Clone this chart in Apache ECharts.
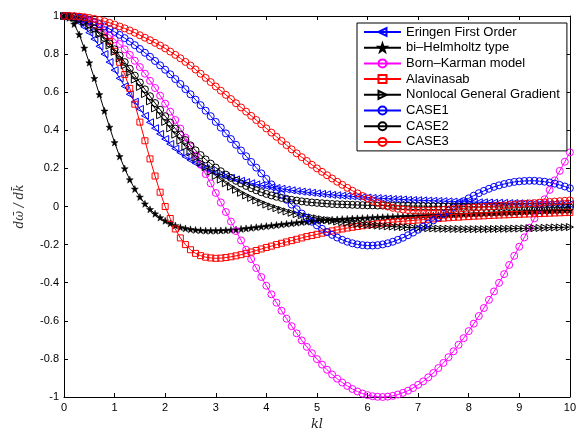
<!DOCTYPE html>
<html>
<head>
<meta charset="utf-8">
<script src="https://cdn.jsdelivr.net/npm/echarts@6/dist/echarts.min.js"></script>
<style>
  html, body { margin: 0; padding: 0; background: #fff; }
  #chart { width: 579px; height: 436px; }
</style>
</head>
<body>
<div id="chart"></div>
<script>
// Group velocity dω̄/dk̄ versus kl for several nonlocal dispersion models.
const kl = [0,0.1,0.2,0.3,0.4,0.5,0.6,0.7,0.8,0.9,1,1.1,1.2,1.3,1.4,1.5,1.6,1.7,1.8,1.9,2,2.1,2.2,2.3,2.4,2.5,2.6,2.7,2.8,2.9,3,3.1,3.2,3.3,3.4,3.5,3.6,3.7,3.8,3.9,4,4.1,4.2,4.3,4.4,4.5,4.6,4.7,4.8,4.9,5,5.1,5.2,5.3,5.4,5.5,5.6,5.7,5.8,5.9,6,6.1,6.2,6.3,6.4,6.5,6.6,6.7,6.8,6.9,7,7.1,7.2,7.3,7.4,7.5,7.6,7.7,7.8,7.9,8,8.1,8.2,8.3,8.4,8.5,8.6,8.7,8.8,8.9,9,9.1,9.2,9.3,9.4,9.5,9.6,9.7,9.8,9.9,10];

const eringen = [1.000,0.996,0.985,0.967,0.943,0.913,0.879,0.841,0.800,0.758,0.716,0.673,0.631,0.589,0.550,0.512,0.476,0.442,0.411,0.381,0.354,0.328,0.304,0.283,0.262,0.244,0.228,0.213,0.200,0.188,0.177,0.167,0.158,0.150,0.142,0.135,0.128,0.122,0.116,0.111,0.106,0.101,0.097,0.093,0.089,0.085,0.081,0.078,0.075,0.072,0.069,0.066,0.064,0.061,0.059,0.057,0.055,0.053,0.051,0.049,0.047,0.045,0.044,0.042,0.041,0.039,0.038,0.037,0.035,0.034,0.033,0.032,0.031,0.030,0.029,0.028,0.027,0.026,0.025,0.025,0.024,0.023,0.022,0.022,0.021,0.020,0.020,0.019,0.018,0.018,0.017,0.017,0.016,0.016,0.015,0.015,0.014,0.014,0.013,0.013,0.012];

const biHelmholtz = [1.000,0.990,0.958,0.903,0.832,0.755,0.673,0.588,0.502,0.417,0.336,0.263,0.199,0.141,0.092,0.050,0.014,-0.015,-0.038,-0.058,-0.075,-0.089,-0.100,-0.109,-0.115,-0.120,-0.123,-0.125,-0.127,-0.127,-0.127,-0.126,-0.125,-0.123,-0.121,-0.118,-0.115,-0.112,-0.109,-0.106,-0.103,-0.100,-0.097,-0.094,-0.091,-0.088,-0.085,-0.082,-0.080,-0.077,-0.075,-0.073,-0.071,-0.069,-0.068,-0.066,-0.065,-0.063,-0.062,-0.061,-0.060,-0.058,-0.057,-0.056,-0.055,-0.054,-0.053,-0.052,-0.051,-0.050,-0.049,-0.048,-0.047,-0.046,-0.045,-0.044,-0.043,-0.042,-0.041,-0.040,-0.039,-0.038,-0.037,-0.036,-0.035,-0.034,-0.033,-0.032,-0.031,-0.030,-0.029,-0.028,-0.027,-0.026,-0.025,-0.024,-0.023,-0.022,-0.021,-0.020,-0.019];

const bornKarman = [1.000,0.999,0.995,0.989,0.980,0.969,0.955,0.939,0.921,0.900,0.878,0.853,0.825,0.796,0.765,0.732,0.697,0.660,0.622,0.582,0.540,0.498,0.454,0.409,0.362,0.315,0.267,0.219,0.170,0.121,0.071,0.021,-0.029,-0.079,-0.129,-0.178,-0.227,-0.276,-0.323,-0.370,-0.416,-0.461,-0.505,-0.547,-0.589,-0.628,-0.666,-0.703,-0.737,-0.770,-0.801,-0.830,-0.857,-0.882,-0.904,-0.924,-0.942,-0.958,-0.971,-0.982,-0.990,-0.996,-0.999,-1.000,-0.998,-0.994,-0.987,-0.978,-0.967,-0.953,-0.936,-0.918,-0.897,-0.874,-0.848,-0.821,-0.791,-0.760,-0.726,-0.691,-0.654,-0.615,-0.575,-0.533,-0.490,-0.446,-0.401,-0.355,-0.307,-0.259,-0.211,-0.162,-0.112,-0.062,-0.012,0.038,0.087,0.137,0.187,0.235,0.284];

const alavinasab = [1.000,1.000,0.999,0.997,0.992,0.983,0.968,0.945,0.912,0.867,0.815,0.757,0.693,0.620,0.537,0.443,0.345,0.250,0.160,0.075,0.000,-0.063,-0.118,-0.165,-0.200,-0.227,-0.246,-0.258,-0.266,-0.270,-0.272,-0.271,-0.268,-0.264,-0.259,-0.253,-0.246,-0.239,-0.231,-0.223,-0.215,-0.208,-0.200,-0.193,-0.186,-0.179,-0.172,-0.165,-0.158,-0.152,-0.146,-0.140,-0.134,-0.128,-0.123,-0.118,-0.113,-0.109,-0.105,-0.101,-0.097,-0.094,-0.091,-0.088,-0.085,-0.082,-0.080,-0.077,-0.075,-0.073,-0.071,-0.069,-0.067,-0.065,-0.063,-0.061,-0.059,-0.057,-0.056,-0.054,-0.053,-0.051,-0.050,-0.049,-0.047,-0.046,-0.045,-0.044,-0.043,-0.042,-0.041,-0.040,-0.039,-0.038,-0.037,-0.036,-0.035,-0.034,-0.033,-0.032,-0.031];

const generalGradient = [1.000,0.998,0.992,0.982,0.968,0.950,0.929,0.904,0.876,0.845,0.812,0.777,0.741,0.704,0.666,0.628,0.590,0.552,0.515,0.479,0.444,0.410,0.377,0.345,0.314,0.285,0.257,0.231,0.206,0.183,0.161,0.141,0.122,0.104,0.088,0.072,0.058,0.045,0.032,0.021,0.010,0.000,-0.009,-0.018,-0.026,-0.033,-0.040,-0.046,-0.052,-0.057,-0.062,-0.067,-0.071,-0.075,-0.079,-0.082,-0.085,-0.088,-0.091,-0.093,-0.096,-0.098,-0.100,-0.102,-0.104,-0.105,-0.107,-0.108,-0.110,-0.111,-0.112,-0.113,-0.114,-0.115,-0.116,-0.117,-0.117,-0.118,-0.118,-0.119,-0.119,-0.119,-0.119,-0.119,-0.119,-0.118,-0.118,-0.117,-0.117,-0.116,-0.116,-0.115,-0.114,-0.114,-0.113,-0.112,-0.111,-0.110,-0.110,-0.109,-0.108];

const case1 = [1.000,0.999,0.996,0.991,0.985,0.977,0.968,0.957,0.945,0.932,0.917,0.901,0.884,0.866,0.847,0.827,0.807,0.786,0.764,0.741,0.718,0.694,0.669,0.643,0.616,0.589,0.561,0.532,0.503,0.474,0.444,0.414,0.384,0.354,0.324,0.294,0.264,0.234,0.204,0.174,0.145,0.116,0.088,0.061,0.035,0.010,-0.014,-0.037,-0.059,-0.080,-0.099,-0.117,-0.134,-0.149,-0.163,-0.175,-0.185,-0.193,-0.199,-0.203,-0.205,-0.205,-0.203,-0.199,-0.193,-0.185,-0.175,-0.164,-0.151,-0.137,-0.122,-0.106,-0.090,-0.073,-0.056,-0.039,-0.022,-0.006,0.012,0.028,0.043,0.057,0.070,0.082,0.093,0.103,0.111,0.118,0.124,0.129,0.132,0.134,0.135,0.135,0.133,0.130,0.126,0.120,0.113,0.105,0.096];

const case2 = [1.000,0.998,0.993,0.984,0.971,0.955,0.935,0.912,0.885,0.856,0.825,0.792,0.758,0.723,0.687,0.651,0.615,0.579,0.543,0.508,0.474,0.441,0.409,0.378,0.349,0.321,0.295,0.270,0.247,0.225,0.204,0.185,0.167,0.150,0.135,0.121,0.108,0.096,0.085,0.075,0.066,0.058,0.051,0.045,0.040,0.035,0.031,0.027,0.024,0.021,0.019,0.017,0.015,0.013,0.012,0.011,0.010,0.009,0.008,0.007,0.006,0.006,0.005,0.005,0.004,0.004,0.003,0.003,0.003,0.002,0.002,0.002,0.001,0.001,0.001,0.000,0.000,0.000,-0.001,-0.001,-0.001,-0.001,-0.002,-0.002,-0.002,-0.002,-0.002,-0.003,-0.003,-0.003,-0.003,-0.003,-0.003,-0.004,-0.004,-0.004,-0.004,-0.004,-0.004,-0.005,-0.005];

const case3 = [1.000,1.000,0.999,0.997,0.994,0.990,0.985,0.979,0.972,0.964,0.955,0.945,0.935,0.924,0.912,0.899,0.886,0.873,0.859,0.845,0.830,0.813,0.796,0.778,0.759,0.740,0.719,0.697,0.675,0.653,0.630,0.608,0.586,0.564,0.542,0.520,0.498,0.476,0.454,0.432,0.410,0.388,0.366,0.344,0.322,0.300,0.279,0.259,0.239,0.219,0.200,0.182,0.164,0.147,0.130,0.114,0.098,0.083,0.069,0.055,0.042,0.030,0.019,0.009,0.000,-0.007,-0.012,-0.016,-0.019,-0.021,-0.022,-0.022,-0.022,-0.021,-0.020,-0.018,-0.016,-0.014,-0.012,-0.010,-0.008,-0.006,-0.004,-0.002,0.000,0.002,0.004,0.006,0.008,0.010,0.012,0.014,0.016,0.018,0.020,0.022,0.024,0.026,0.028,0.030,0.032];

const xTicks = [0, 10, 1];      // min, max, step
const yTicks = [-1, 1, 0.2];

const STAR = 'path://M0,-10L2.35,-3.24L9.51,-3.09L3.8,1.24L5.88,8.09L0,4L-5.88,8.09L-3.8,1.24L-9.51,-3.09L-2.35,-3.24Z';

function pairs(ys) { return ys.map((y, i) => [kl[i], y]); }

function curve(name, ys, color, symbol, size, opts) {
  opts = opts || {};
  return {
    name: name,
    type: 'line',
    data: pairs(ys),
    symbol: symbol,
    symbolSize: size,
    symbolRotate: opts.rotate || 0,
    showAllSymbol: true,
    clip: false,
    animation: false,
    lineStyle: { color: color, width: 1 },
    itemStyle: opts.filled
      ? { color: color, borderColor: color, borderWidth: 0.5 }
      : { color: 'rgba(255,255,255,0)', borderColor: color, borderWidth: 1 },
    emphasis: { disabled: true }
  };
}

const axisFont = { fontFamily: 'Liberation Sans, Arial, sans-serif', fontSize: 11, color: '#000' };

const chart = echarts.init(document.getElementById('chart'), null, { renderer: 'canvas' });
chart.setOption({
  backgroundColor: '#fff',
  animation: false,
  grid: { left: 64, right: 4, top: 16, bottom: 39, containLabel: false },
  xAxis: [{
    type: 'value', min: xTicks[0], max: xTicks[1], interval: xTicks[2],
    name: 'kl', nameLocation: 'middle', nameGap: 17,
    nameTextStyle: { fontFamily: 'DejaVu Serif, serif', fontStyle: 'italic', fontSize: 13, color: '#222' },
    axisLine: { show: true, onZero: false, lineStyle: { color: '#000', width: 1 } },
    axisTick: { show: true, inside: true, length: 4, lineStyle: { color: '#000' } },
    axisLabel: Object.assign({ margin: 5 }, axisFont),
    splitLine: { show: false }
  }, {
    type: 'value', position: 'top', min: xTicks[0], max: xTicks[1], interval: xTicks[2],
    axisLine: { show: true, onZero: false, lineStyle: { color: '#000', width: 1 } },
    axisTick: { show: true, inside: true, length: 4, lineStyle: { color: '#000' } },
    axisLabel: { show: false }, splitLine: { show: false }
  }],
  yAxis: [{
    type: 'value', min: yTicks[0], max: yTicks[1], interval: yTicks[2],
    name: 'd\u03C9\u0304 / dk\u0304', nameLocation: 'middle', nameGap: 38,
    nameTextStyle: { fontFamily: 'DejaVu Serif, serif', fontStyle: 'italic', fontSize: 12, color: '#333' },
    axisLine: { show: true, onZero: false, lineStyle: { color: '#000', width: 1 } },
    axisTick: { show: true, inside: true, length: 4, lineStyle: { color: '#000' } },
    axisLabel: Object.assign({ margin: 5 }, axisFont),
    splitLine: { show: false }
  }, {
    type: 'value', position: 'right', min: yTicks[0], max: yTicks[1], interval: yTicks[2],
    axisLine: { show: true, onZero: false, lineStyle: { color: '#000', width: 1 } },
    axisTick: { show: true, inside: true, length: 4, lineStyle: { color: '#000' } },
    axisLabel: { show: false }, splitLine: { show: false }
  }],
  legend: {
    orient: 'vertical', left: 357, top: 23,
    padding: [2, 7, 2, 6],
    itemWidth: 37, itemHeight: 10, itemGap: 1.7,
    backgroundColor: '#fff', borderColor: '#000', borderWidth: 1, borderRadius: 0,
    textStyle: { fontFamily: 'Liberation Sans, Arial, sans-serif', fontSize: 13, color: '#000', lineHeight: 14 },
    selectedMode: false
  },
  series: [
    curve('Eringen First Order', eringen, '#0000ff', 'triangle', 7, { rotate: 90 }),
    curve('bi\u2013Helmholtz type', biHelmholtz, '#000000', STAR, 7, { filled: true }),
    curve('Born\u2013Karman model', bornKarman, '#ff00ff', 'circle', 7),
    curve('Alavinasab', alavinasab, '#ff0000', 'rect', 6),
    curve('Nonlocal General Gradient', generalGradient, '#000000', 'triangle', 7, { rotate: -90 }),
    curve('CASE1', case1, '#0000ff', 'circle', 7),
    curve('CASE2', case2, '#000000', 'circle', 7),
    curve('CASE3', case3, '#ff0000', 'circle', 7)
  ]
});
</script>
</body>
</html>
